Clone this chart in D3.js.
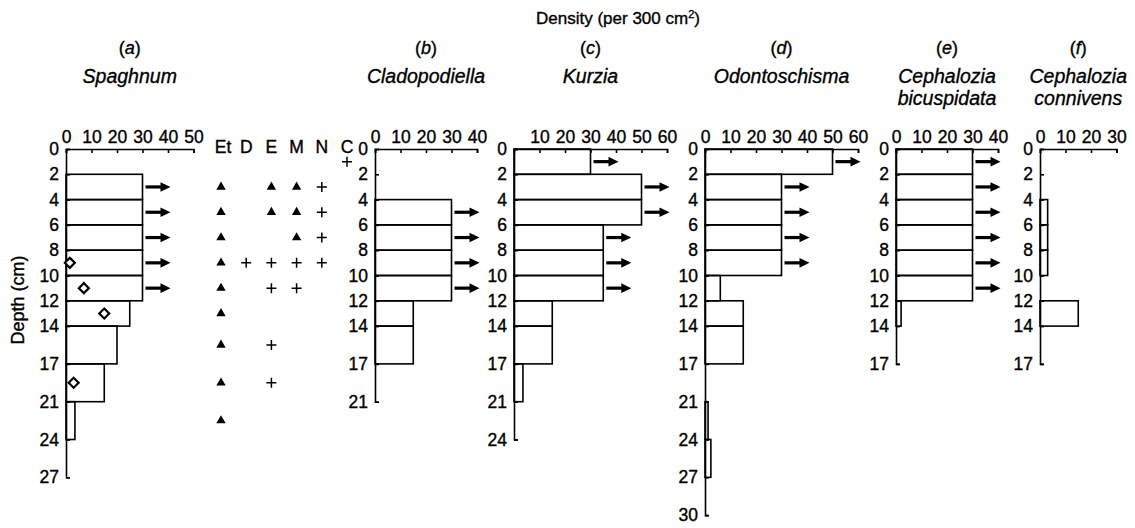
<!DOCTYPE html>
<html>
<head>
<meta charset="utf-8">
<script src="https://cdn.jsdelivr.net/npm/d3@7"></script>
<style>
  html, body { margin: 0; padding: 0; background: #fff; }
  svg { display: block; }
  text { font-family: "Liberation Sans", Arial, sans-serif; fill: #000; stroke: #000; stroke-width: 0.35px; }
</style>
</head>
<body>
<svg id="chart" width="1135" height="528"></svg>
<script>
// ---------------- DATA ----------------
// sampling interval boundaries (cm)
const depthBounds = [0, 2, 4, 6, 8, 10, 12, 14, 17, 21, 24, 27, 30];
const depthTickLabels = [0, 2, 4, 6, 8, 10, 12, 14, 17, 21, 24, 27, 30];

// density per 300 cm^2 for each interval (starting at depthBounds[i])
const spaghnumDensity      = [0, 30, 30, 30, 30, 30, 25, 20, 15, 3.5, 0];
const cladopodiellaDensity = [0, 0, 30, 30, 30, 30, 15, 15, 0];
const kurziaDensity        = [30, 50, 50, 35, 35, 35, 15, 15, 3.5, 0];
const odontoschismaDensity = [50, 30, 30, 30, 30, 6, 15, 15, 0, 1.2, 2.3, 0];
const bicuspidataDensity   = [30, 30, 30, 30, 30, 30, 2, 0];
const connivensDensity     = [0, 0, 3, 3, 3, 0, 15, 0];

// intervals (top depth) whose bar carries an arrow
const spaghnumArrows      = [2, 4, 6, 8, 10];
const cladopodiellaArrows = [4, 6, 8, 10];
const kurziaArrows        = [0, 2, 4, 6, 8, 10];
const odontoschismaArrows = [0, 2, 4, 6, 8];
const bicuspidataArrows   = [0, 2, 4, 6, 8, 10];
const connivensArrows     = [];

// open diamonds in panel (a): interval top depth and value
const diamondDepth = [8, 10, 12, 17];
const diamondValue = [1.5, 7, 15, 3];

// presence columns
const fossilColumns = ["Et", "D", "E", "M", "N", "C"];
const fossilMarks = [
  ["Et", "tri", 2], ["Et", "tri", 4], ["Et", "tri", 6], ["Et", "tri", 8], ["Et", "tri", 10],
  ["Et", "tri", 12], ["Et", "tri", 14], ["Et", "tri", 17], ["Et", "tri", 21],
  ["D", "plus", 8],
  ["E", "tri", 2], ["E", "tri", 4], ["E", "plus", 8], ["E", "plus", 10], ["E", "plus", 14], ["E", "plus", 17],
  ["M", "tri", 2], ["M", "tri", 4], ["M", "tri", 6], ["M", "plus", 8], ["M", "plus", 10],
  ["N", "plus", 2], ["N", "plus", 4], ["N", "plus", 6], ["N", "plus", 8],
  ["C", "plus", 0]
];

// panel descriptions
const panelLetters  = ["a", "b", "c", "d", "e", "f"];
const panelNames    = [["Spaghnum"], ["Cladopodiella"], ["Kurzia"], ["Odontoschisma"],
                       ["Cephalozia", "bicuspidata"], ["Cephalozia", "connivens"]];
const panelDensityMax = [50, 40, 60, 60, 40, 30];
const panelDepthMax   = [27, 21, 24, 30, 17, 17];
const panelDensityTicks = [
  [0, 10, 20, 30, 40, 50], [0, 10, 20, 30, 40], [10, 20, 30, 40, 50, 60],
  [0, 10, 20, 30, 40, 50, 60], [0, 10, 20, 30, 40], [0, 10, 20, 30]
];
const panelDensity = [spaghnumDensity, cladopodiellaDensity, kurziaDensity,
                      odontoschismaDensity, bicuspidataDensity, connivensDensity];
const panelArrows  = [spaghnumArrows, cladopodiellaArrows, kurziaArrows,
                      odontoschismaArrows, bicuspidataArrows, connivensArrows];

// ---------------- LAYOUT ----------------
const panelLeft = [66, 375, 514, 705, 896, 1040];
const pxPerUnit = 2.55;
const top0 = 149;
const smallStep = 25.3, bigStep = 37.8;
const depthRange = depthBounds.map((d, i) => top0 + (i <= 7 ? i * smallStep : 7 * smallStep + (i - 7) * bigStep));
const FONT = '"Liberation Sans", Arial, sans-serif';

const svg = d3.select("#chart");
svg.append("rect").attr("width", 1135).attr("height", 528).attr("fill", "#fff");

function depthScale(maxDepth) {
  const k = depthBounds.indexOf(maxDepth) + 1;
  return d3.scaleLinear().domain(depthBounds.slice(0, k)).range(depthRange.slice(0, k));
}
const yAll = depthScale(30);
const nextBound = t => depthBounds[depthBounds.indexOf(t) + 1];
const midY = t => (yAll(t) + yAll(nextBound(t))) / 2;

// main title
const title = svg.append("text").attr("x", 618).attr("y", 24).attr("text-anchor", "middle")
  .style("font-size", "17px");
title.append("tspan").text("Density (per 300 cm");
title.append("tspan").attr("dy", -6).style("font-size", "11px").text("2");
title.append("tspan").attr("dy", 6).text(")");

// y label
svg.append("text").attr("transform", "translate(18,300) rotate(-90)")
  .attr("text-anchor", "middle").attr("dominant-baseline", "central")
  .style("font-size", "18px").text("Depth (cm)");

panelLetters.forEach((letter, p) => {
  const x = d3.scaleLinear().domain([0, panelDensityMax[p]]).range([0, panelDensityMax[p] * pxPerUnit]);
  const y = depthScale(panelDepthMax[p]);
  const g = svg.append("g").attr("transform", `translate(${panelLeft[p]},0)`);
  const cx = x(panelDensityMax[p]) / 2;

  // titles
  const lt = g.append("text").attr("x", cx).attr("y", 54).attr("text-anchor", "middle").style("font-size", "18px");
  lt.append("tspan").text("(");
  lt.append("tspan").style("font-style", "italic").text(letter);
  lt.append("tspan").text(")");
  panelNames[p].forEach((nm, i) => {
    g.append("text").attr("x", cx).attr("y", 83 + i * 22).attr("text-anchor", "middle")
      .style("font-size", "19.5px").style("font-style", "italic").text(nm);
  });

  // bars
  const bars = panelDensity[p].map((v, i) => ({ t: depthBounds[i], b: depthBounds[i + 1], v }))
    .filter(d => d.v > 0);
  g.selectAll("rect.bar").data(bars).join("rect").attr("class", "bar")
    .attr("x", x(0)).attr("y", d => y(d.t))
    .attr("width", d => x(d.v) - x(0)).attr("height", d => y(d.b) - y(d.t))
    .attr("fill", "none").attr("stroke", "#000").attr("stroke-width", 1.6);

  // axes
  const ax = g.append("g").attr("transform", `translate(0,${y(0)})`)
    .call(d3.axisTop(x).tickValues(panelDensityTicks[p]).tickFormat(d3.format("d"))
      .tickSizeInner(-4).tickSizeOuter(-4).tickPadding(6));
  const ay = g.append("g")
    .call(d3.axisLeft(y).tickValues(depthTickLabels.filter(d => d <= panelDepthMax[p])).tickFormat(d3.format("d"))
      .tickSizeInner(-4).tickSizeOuter(-4).tickPadding(7));
  [ax, ay].forEach(a => {
    a.attr("font-family", FONT).attr("font-size", 17.5);
    a.selectAll("path, line").attr("stroke", "#000").attr("stroke-width", 1.6);
    a.selectAll("text").attr("fill", "#000");
  });

  // arrows
  panelArrows[p].forEach(t => {
    const v = panelDensity[p][depthBounds.indexOf(t)];
    const x1 = x(v) + 3, x2 = x1 + 25, yy = midY(t);
    g.append("line").attr("x1", x1).attr("x2", x2 - 7).attr("y1", yy).attr("y2", yy)
      .attr("stroke", "#000").attr("stroke-width", 3.2);
    g.append("path").attr("d", `M${x2},${yy}L${x2 - 10},${yy - 4.8}L${x2 - 10},${yy + 4.8}Z`).attr("fill", "#000");
  });

  // diamonds in (a)
  if (p === 0) {
    diamondDepth.forEach((t, i) => {
      g.append("path").attr("d", d3.symbol(d3.symbolSquare, 50)())
        .attr("transform", `translate(${x(diamondValue[i])},${midY(t)}) rotate(45)`)
        .attr("fill", "#fff").attr("stroke", "#000").attr("stroke-width", 2.2);
    });
  }
});

// presence columns
const colX = d3.scalePoint().domain(fossilColumns).range([221, 347]);
svg.selectAll("text.colhead").data(fossilColumns).join("text").attr("class", "colhead")
  .attr("x", d => colX(d) + (d === "Et" ? 2 : 0)).attr("y", 153).attr("text-anchor", "middle")
  .style("font-size", "17.5px").text(d => d);
fossilMarks.forEach(([col, kind, t]) => {
  const px = colX(col), py = midY(t);
  if (kind === "tri") {
    svg.append("path").attr("d", d3.symbol(d3.symbolTriangle, 38)())
      .attr("transform", `translate(${px},${py})`).attr("fill", "#000");
  } else {
    svg.append("path").attr("d", "M-5,0H5M0,-5V5")
      .attr("transform", `translate(${px},${py})`).attr("stroke", "#000").attr("stroke-width", 1.5).attr("fill", "none");
  }
});
</script>
</body>
</html>
